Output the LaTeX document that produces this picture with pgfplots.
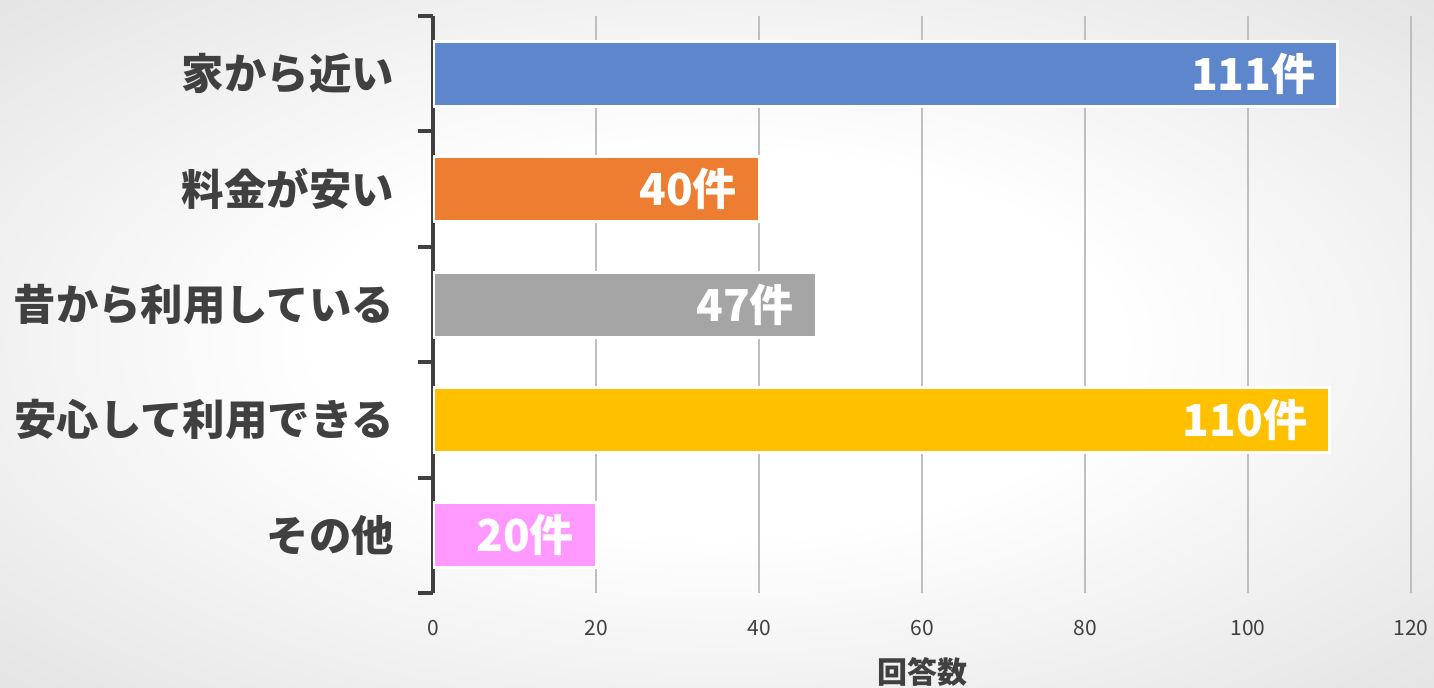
\documentclass[border=0pt]{standalone}
\usepackage{pgfplots}
\pgfplotsset{compat=1.18}
\usepackage{fontspec}
\setmainfont{Noto Sans CJK JP}
\definecolor{txt}{HTML}{404040}
\definecolor{gridc}{HTML}{BFBFBF}
\definecolor{bgA}{HTML}{D2D2D2}
\definecolor{bgB}{HTML}{C4C4C4}
\definecolor{cblue}{HTML}{5E86CC}
\definecolor{corange}{HTML}{ED7D31}
\definecolor{cgray}{HTML}{A5A5A5}
\definecolor{cgold}{HTML}{FFC000}
\definecolor{cpink}{HTML}{FF99FF}
\pgfdeclareradialshading{bgshade}{\pgfpoint{0bp}{0bp}}{color(0bp)=(white); color(14bp)=(white); color(50bp)=(bgA); color(72bp)=(bgB)}
\begin{document}
\begin{tikzpicture}
\shade[shading=bgshade] (0,0) rectangle (717bp,344bp);
\begin{axis}[
  at={(216.5bp,47.5bp)}, anchor=south west,
  scale only axis, width=489bp, height=288.5bp,
  xbar, bar shift=0pt, bar width=32.5bp,
  xmin=0, xmax=120, ymin=-0.5, ymax=4.5, y dir=reverse,
  xtick={0,20,...,120},
  ytick={0,1,2,3,4},
  yticklabels={家から近い,料金が安い,昔から利用している,安心して利用できる,その他},
  minor ytick={-0.5,0.5,1.5,2.5,3.5,4.5},
  xmajorgrids, major grid style={draw=gridc, line width=0.75bp},
  axis y line=left, axis x line=bottom,
  x axis line style={draw=none},
  y axis line style={-, draw=txt, line width=2bp},
  major tick length=0pt, minor tick length=7.5bp, tick align=outside,
  ytick pos=left,
  minor tick style={draw=txt, line width=2bp},
  /pgf/number format/assume math mode=true,
  yticklabel style={font=\fontsize{21.2bp}{24bp}\selectfont\bfseries, text=txt, xshift=-16bp},
  xticklabel style={font=\fontsize{10.5bp}{12bp}\selectfont, text=txt, yshift=-10bp},
  xlabel={回答数},
  xlabel style={at={(axis description cs:0.5,0)}, anchor=center, yshift=-39.5bp, font=\fontsize{15bp}{17bp}\selectfont\bfseries, text=txt},
  nodes near coords={\pgfmathprintnumber{\pgfplotspointmeta}件},
  every node near coord/.append style={anchor=east, xshift=-7bp, text=white, font=\fontsize{22bp}{24bp}\selectfont\bfseries},
  every axis plot/.append style={draw=white, line width=1.5bp},
]
\addplot[fill=cblue] coordinates {(111,0)};
\addplot[fill=corange] coordinates {(40,1)};
\addplot[fill=cgray] coordinates {(47,2)};
\addplot[fill=cgold] coordinates {(110,3)};
\addplot[fill=cpink] coordinates {(20,4)};
\end{axis}
\pgfresetboundingbox
\useasboundingbox (0,0) rectangle (717bp,344bp);
\end{tikzpicture}
\end{document}
